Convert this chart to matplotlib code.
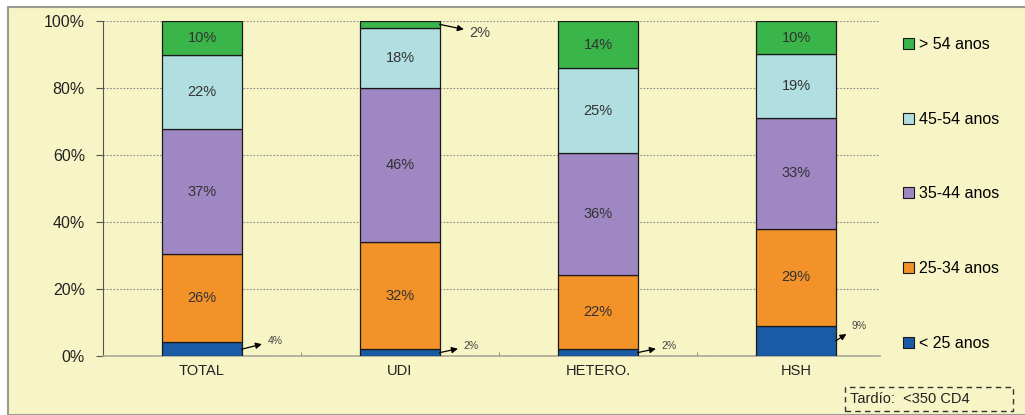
import numpy as np
import matplotlib.pyplot as plt
from matplotlib.patches import Rectangle, Patch

plt.rcParams['font.family'] = ['Liberation Sans', 'DejaVu Sans']

categories = ["TOTAL", "UDI", "HETERO.", "HSH"]
age_groups = ["< 25 anos", "25-34 anos", "35-44 anos", "45-54 anos", "> 54 anos"]
# percentages per age group (rows) for each category (columns)
lt25 = [4, 2, 2, 9]
a25_34 = [26, 32, 22, 29]
a35_44 = [37, 46, 36, 33]
a45_54 = [22, 18, 25, 19]
gt54 = [10, 2, 14, 10]
colors = ["#1A5BA6", "#F29229", "#9E87C2", "#B1DEE0", "#3AB54A"]
note = "Tardío:  <350 CD4"

# segments labelled outside with an arrow: (group index, category index)
arrow_segments = [(0, 0), (4, 1), (0, 1), (0, 2), (0, 3)]

series = np.array([lt25, a25_34, a35_44, a45_54, gt54], dtype=float)
shares = series / series.sum(axis=0) * 100

fig = plt.figure(figsize=(10.25, 4.15), dpi=100)
fig.patch.set_facecolor("white")
# cream panel with grey border
fig.patches.append(Rectangle((8 / 1025, 0), 1, 1 - 7 / 415, transform=fig.transFigure,
                             facecolor="#F7F5C6", edgecolor="#9A9A90", lw=1.5, zorder=-10))

ax = fig.add_axes([103 / 1025, 1 - 356 / 415, (880 - 103) / 1025, (356 - 21) / 415])
ax.set_facecolor("none")

x = np.arange(len(categories))
width = 0.40
bottom = np.zeros(len(categories))
bottoms = []
for i, name in enumerate(age_groups):
    ax.bar(x, shares[i], width, bottom=bottom, color=colors[i], edgecolor="#1a1a1a",
           lw=0.9, zorder=3, label=name)
    for j in range(len(categories)):
        if (i, j) in arrow_segments:
            continue
        ax.text(x[j], bottom[j] + shares[i, j] / 2, f"{int(series[i, j])}%",
                ha="center", va="center", fontsize=10.5, color="#333333", zorder=4)
    bottoms.append(bottom.copy())
    bottom += shares[i]

# small segments labelled with arrows
offsets = {(0, 0): (0.13, 2.5, 7.5), (4, 1): (0.15, -2.5, 10.5), (0, 1): (0.12, 2.0, 7.5),
           (0, 2): (0.12, 2.0, 7.5), (0, 3): (0.08, 4.5, 7.5)}
for (i, j) in arrow_segments:
    dx, dy, size = offsets[(i, j)]
    yj = bottoms[i][j] + shares[i, j] / 2
    ax.annotate(f"{int(series[i, j])}%", xy=(x[j] + width / 2, yj),
                xytext=(x[j] + width / 2 + dx, yj + dy),
                fontsize=size, color="#444444", va="center", ha="left", zorder=5,
                arrowprops=dict(arrowstyle="<|-", color="black", lw=0.9,
                                shrinkA=2, shrinkB=0, mutation_scale=9))

ax.set_xlim(-0.5, 3.424)
ax.set_ylim(0, 100)
ax.set_yticks(np.arange(0, 101, 20))
ax.set_yticklabels([f"{v}%" for v in range(0, 101, 20)], fontsize=11.5, color="#222222")
ax.set_xticks(x)
ax.set_xticklabels(categories, fontsize=10.5, color="#222222")
ax.set_xticks([0.5, 1.5, 2.5], minor=True)
ax.tick_params(axis="x", which="major", length=0, pad=6)
ax.tick_params(axis="x", which="minor", length=3, direction="in", color="#777777")
ax.tick_params(axis="y", length=5, color="#555555", pad=8)
ax.yaxis.grid(True, linestyle=(0, (1.5, 1.5)), color="#8a8a8a", lw=0.8, zorder=0)
for s in ["top", "right"]:
    ax.spines[s].set_visible(False)
ax.spines["left"].set_color("#555555")
ax.spines["bottom"].set_color("#A8A898")
ax.spines["bottom"].set_linewidth(1.2)

handles = [Patch(facecolor=colors[i], edgecolor="#1a1a1a", lw=0.8, label=age_groups[i])
           for i in range(len(age_groups) - 1, -1, -1)]
fig.legend(handles=handles, loc="upper left", bbox_to_anchor=(895 / 1025, 1 - 29 / 415),
           frameon=False, fontsize=11.5, handlelength=0.7, handleheight=0.7,
           handletextpad=0.3, labelspacing=3.74, borderpad=0)

fig.patches.append(Rectangle((845 / 1025, 1 - 411 / 415), 168 / 1025, 24 / 415,
                             transform=fig.transFigure, facecolor="none",
                             edgecolor="#333333", lw=1, linestyle=(0, (4, 3))))
fig.text(850 / 1025, 1 - 399 / 415, note, fontsize=10.5, va="center", ha="left", color="#222222")

fig.savefig("out.png", dpi=100, facecolor=fig.get_facecolor())
